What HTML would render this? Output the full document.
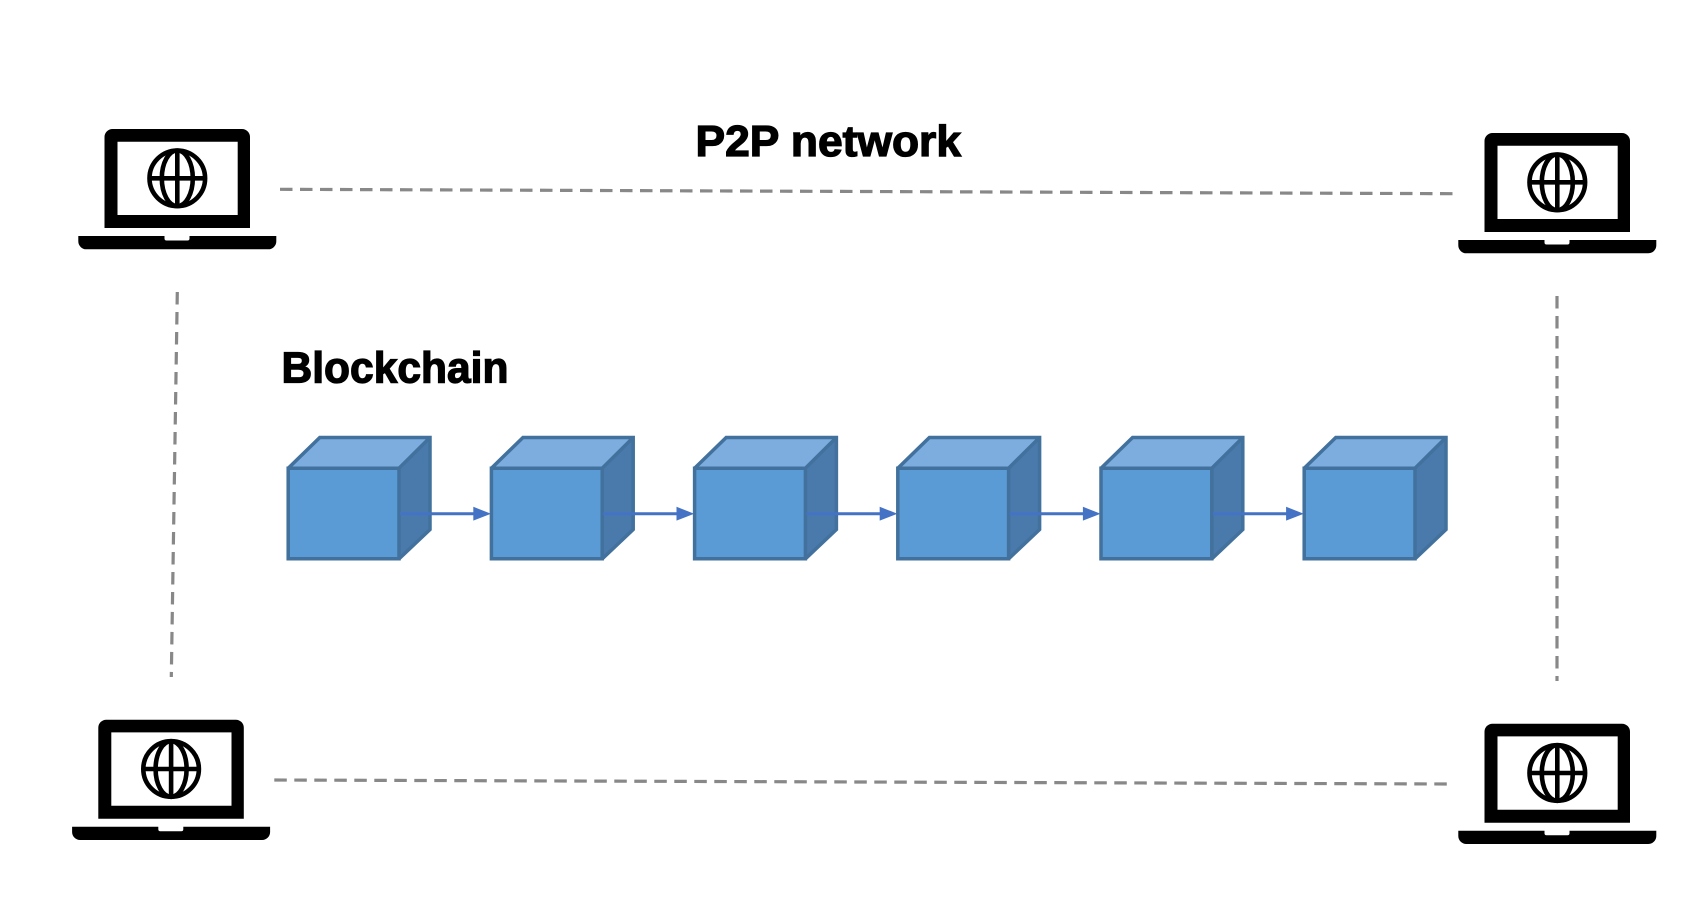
<!DOCTYPE html>
<html lang="en">
<head>
<meta charset="utf-8">
<title>P2P network and Blockchain</title>
<style>
html,body{margin:0;padding:0;background:#fff;width:1702px;height:906px;overflow:hidden}
svg{display:block}
text{font-family:"Liberation Sans",sans-serif;font-weight:700;font-size:44px;fill:#000;stroke:#000;stroke-width:1.3}
</style>
</head>
<body>
<svg width="1702" height="906" viewBox="0 0 1702 906" xmlns="http://www.w3.org/2000/svg">
<defs>
<g id="laptop">
<path fill-rule="evenodd" fill="#000" d="M112.500 129H242a8 8 0 0 1 8 8V228H104.500V137a8 8 0 0 1 8-8ZM117.500 141.700V215H237.700V141.700Z"/>
<path fill="#000" d="M78.300 236H164.500V238.500Q164.500 240.500 166.500 240.500H187.500Q189.500 240.500 189.500 238.500V236H276.300V241.300a8 8 0 0 1-8 8H86.300a8 8 0 0 1-8-8Z"/>
<g fill="none" stroke="#000" stroke-width="4.600">
<circle cx="177.300" cy="178.300" r="27.800"/>
<ellipse cx="177.300" cy="178.300" rx="15.500" ry="27.800"/>
<path d="M177.300 150.300V206.300M149.300 178.300H205.300"/>
</g>
</g>
<g id="cube">
<path d="M288.200 468.200H399V558.800H288.200Z" fill="#5b9bd5"/>
<path d="M288.200 468.200L319.800 437.500H430L399 468.200Z" fill="#7cadde"/>
<path d="M399 468.200L430 437.500V529.500L399 558.800Z" fill="#4a7aab"/>
<path d="M288.200 468.200H399V558.800H288.200ZM288.200 468.200L319.800 437.500H430V529.500L399 558.800M399 468.200L430 437.500" fill="none" stroke="#41719c" stroke-width="3.500"/>
</g>
<g id="arrow">
<path d="M400 513.700H475" stroke="#4472c4" stroke-width="3" fill="none"/>
<path d="M473.300 506.800L491 513.700L473.300 520.600Z" fill="#4472c4"/>
</g>
</defs>

<text x="695.500" y="156" textLength="265.500" lengthAdjust="spacingAndGlyphs">P2P network</text>
<text x="281.500" y="382.500" textLength="227" lengthAdjust="spacingAndGlyphs">Blockchain</text>

<g stroke="#888" stroke-width="3.200" stroke-dasharray="12.500 7.500" fill="none">
<path d="M280 189.300L1456 193.700"/>
<path d="M274.300 780L1449 784"/>
<path d="M177.300 292L171.300 677"/>
<path d="M1557 296V681"/>
</g>

<use href="#laptop"/>
<use href="#laptop" transform="translate(1380 4)"/>
<use href="#laptop" transform="translate(-6.200 590.700)"/>
<use href="#laptop" transform="translate(1380 594.700)"/>

<use href="#cube"/>
<use href="#cube" transform="translate(203.200 0)"/>
<use href="#cube" transform="translate(406.400 0)"/>
<use href="#cube" transform="translate(609.600 0)"/>
<use href="#cube" transform="translate(812.800 0)"/>
<use href="#cube" transform="translate(1016 0)"/>

<use href="#arrow"/>
<use href="#arrow" transform="translate(203.200 0)"/>
<use href="#arrow" transform="translate(406.400 0)"/>
<use href="#arrow" transform="translate(609.600 0)"/>
<use href="#arrow" transform="translate(812.800 0)"/>
</svg>
</body>
</html>
